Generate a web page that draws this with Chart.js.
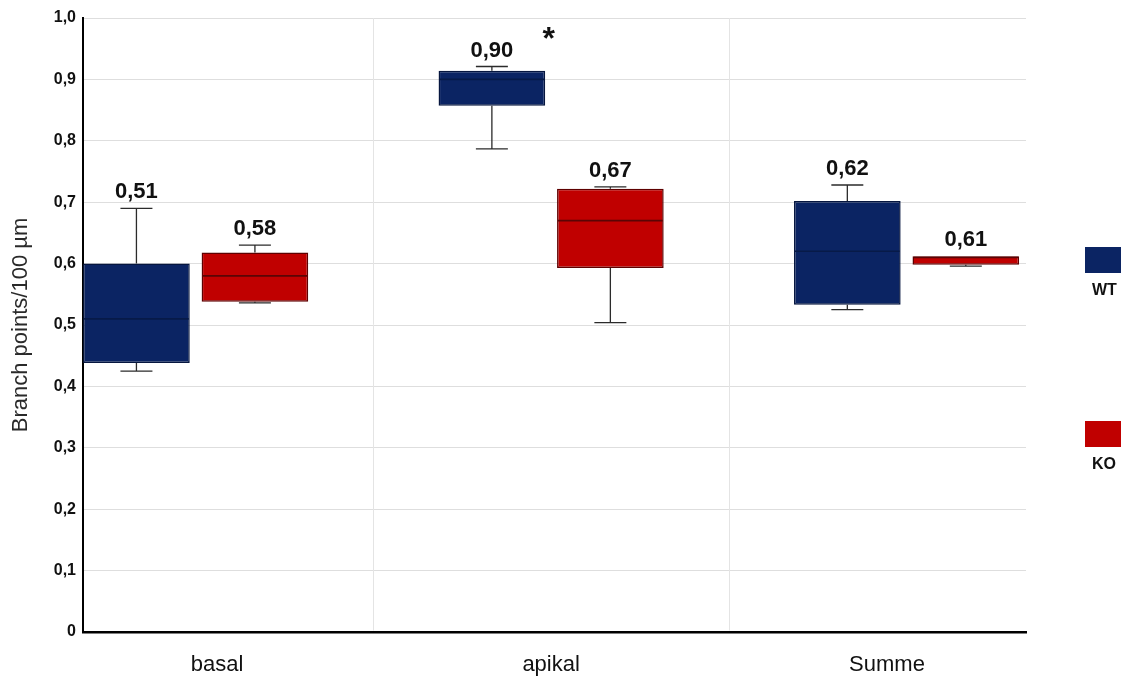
<!DOCTYPE html>
<html>
<head>
<meta charset="utf-8">
<script src="https://cdn.jsdelivr.net/npm/chart.js@4/dist/chart.umd.min.js"></script>
<style>
  html, body { margin: 0; padding: 0; background: #fff; }
  #wrap { width: 1121px; height: 682px; position: relative; }
</style>
</head>
<body>
<div id="wrap"><canvas id="c"></canvas></div>
<script>
// Branch point density per group: box = quartiles, whiskers = min/max
const categories = ['basal', 'apikal', 'Summe'];
const seriesNames = ['WT', 'KO'];

const wtMin    = [0.425, 0.787, 0.525];
const wtQ1     = [0.438, 0.857, 0.533];
const wtMedian = [0.51, 0.90, 0.62];
const wtQ3     = [0.600, 0.914, 0.702];
const wtMax    = [0.690, 0.921, 0.728];

const koMin    = [0.536, 0.504, 0.596];
const koQ1     = [0.538, 0.593, 0.598];
const koMedian = [0.58, 0.67, 0.61];
const koQ3     = [0.618, 0.722, 0.612];
const koMax    = [0.630, 0.725, 0.612];

const significance = ['', '*', ''];
const yTickValues = [0, 0.1, 0.2, 0.3, 0.4, 0.5, 0.6, 0.7, 0.8, 0.9, 1.0];

// ---- layout / style ----
const FONT = "'Liberation Sans', Arial, sans-serif";
const groupShift = [-1 / 6, 1 / 6];            // WT left, KO right of category centre
const labelPositions = [0.06, 1.0, 1.945];      // x positions of category captions
const fills   = ['#0b2463', '#c00000'];
const borders = ['#06163f', '#5e0000'];
const medianColors = ['#071a48', '#5a0505'];

const stats = [
  { min: wtMin, q1: wtQ1, med: wtMedian, q3: wtQ3, max: wtMax },
  { min: koMin, q1: koQ1, med: koMedian, q3: koQ3, max: koMax }
];

function boxData(s, shift) {
  return categories.map((_, i) => ({ x: i + shift, y: [s.q1[i], s.q3[i]] }));
}

const fmt = v => v.toFixed(2).replace('.', ',');

const dividerPlugin = {
  id: 'dividers',
  beforeDatasetsDraw(chart) {
    const { ctx, chartArea, scales: { x } } = chart;
    ctx.save();
    ctx.strokeStyle = '#e4e4e4';
    ctx.lineWidth = 1;
    for (let i = 0; i < categories.length - 1; i++) {
      const px = Math.round(x.getPixelForValue(i + 0.5)) + 0.5;
      ctx.beginPath();
      ctx.moveTo(px, chartArea.top);
      ctx.lineTo(px, chartArea.bottom - 1.5);
      ctx.stroke();
    }
    ctx.restore();
  }
};

const whiskerPlugin = {
  id: 'whiskers',
  afterDatasetsDraw(chart) {
    const { ctx, scales: { x, y } } = chart;
    ctx.save();
    chart.data.datasets.forEach((ds, d) => {
      const meta = chart.getDatasetMeta(d);
      const s = stats[d];
      categories.forEach((_, i) => {
        const bar = meta.data[i];
        const cx = x.getPixelForValue(i + groupShift[d]);
        const half = bar.width / 2;
        const capHalf = (x.getPixelForValue(0.045) - x.getPixelForValue(0));
        const yMin = y.getPixelForValue(s.min[i]);
        const yQ1 = y.getPixelForValue(s.q1[i]);
        const yMed = y.getPixelForValue(s.med[i]);
        const yQ3 = y.getPixelForValue(s.q3[i]);
        const yMax = y.getPixelForValue(s.max[i]);

        // whiskers and caps
        ctx.strokeStyle = '#2b2b2b';
        ctx.lineWidth = 1.3;
        ctx.beginPath();
        if (yMax < yQ3 - 0.5) {
          ctx.moveTo(cx, yQ3); ctx.lineTo(cx, yMax);
          ctx.moveTo(cx - capHalf, yMax); ctx.lineTo(cx + capHalf, yMax);
        }
        if (yMin > yQ1 + 0.5) {
          ctx.moveTo(cx, yQ1); ctx.lineTo(cx, yMin);
          ctx.moveTo(cx - capHalf, yMin); ctx.lineTo(cx + capHalf, yMin);
        }
        ctx.stroke();

        // median
        ctx.strokeStyle = medianColors[d];
        ctx.lineWidth = 1.6;
        ctx.beginPath();
        ctx.moveTo(cx - half + 1, yMed);
        ctx.lineTo(cx + half - 1, yMed);
        ctx.stroke();

        // value label
        ctx.fillStyle = '#111';
        ctx.font = `bold 22px ${FONT}`;
        ctx.textAlign = 'center';
        ctx.textBaseline = 'alphabetic';
        ctx.fillText(fmt(s.med[i]), cx, Math.min(yMax, yQ3) - 10);
      });
    });

    // significance marks above the WT box
    ctx.font = `bold 32px ${FONT}`;
    ctx.fillStyle = '#111';
    ctx.textAlign = 'center';
    significance.forEach((mark, i) => {
      if (!mark) return;
      const px = x.getPixelForValue(i + groupShift[0] + 0.16);
      const py = y.getPixelForValue(0.95);
      ctx.fillText(mark, px, py);
    });
    ctx.restore();
  }
};

const legendPlugin = {
  id: 'sideLegend',
  afterDraw(chart) {
    const { ctx } = chart;
    ctx.save();
    chart.data.datasets.forEach((ds, d) => {
      const top = 247 + d * 174;
      ctx.fillStyle = ds.backgroundColor;
      ctx.fillRect(1085, top, 45, 26);
      ctx.fillStyle = '#111';
      ctx.font = `bold 16px ${FONT}`;
      ctx.textAlign = 'left';
      ctx.textBaseline = 'alphabetic';
      ctx.fillText(ds.label, 1092, top + 48);
    });
    ctx.restore();
  }
};

new Chart(document.getElementById('c'), {
  type: 'bar',
  data: {
    datasets: seriesNames.map((name, d) => ({
      label: name,
      data: boxData(stats[d], groupShift[d]),
      backgroundColor: fills[d],
      borderColor: borders[d],
      borderWidth: 1.5,
      borderSkipped: false,
      grouped: false,
      barPercentage: 0.9,
      categoryPercentage: 1
    }))
  },
  options: {
    responsive: true,
    maintainAspectRatio: false,
    animation: false,
    layout: { padding: { top: 18, right: 95, left: 4, bottom: 0 } },
    plugins: { legend: { display: false }, tooltip: { enabled: false } },
    scales: {
      x: {
        type: 'linear',
        min: -0.317,
        max: 2.336,
        offset: false,
        afterBuildTicks: s => { s.ticks = labelPositions.map(v => ({ value: v })); },
        afterFit: s => { s.height = 50; },
        ticks: {
          callback: (v, idx) => categories[idx],
          font: { family: FONT, size: 22 },
          color: '#111',
          padding: 20,
          maxRotation: 0,
          autoSkip: false
        },
        grid: { display: false, drawTicks: false, offset: false },
        border: { display: true, color: '#000', width: 2.5 }
      },
      y: {
        min: 0,
        max: 1,
        afterBuildTicks: s => { s.ticks = yTickValues.map(v => ({ value: v })); },
        afterFit: s => { s.width = 79; },
        ticks: {
          callback: v => v === 0 ? '0' : v.toFixed(1).replace('.', ','),
          font: { family: FONT, size: 16, weight: 'bold' },
          color: '#111',
          padding: 7
        },
        grid: { color: '#dedede', drawTicks: false },
        border: { display: true, color: '#000', width: 2 },
        title: {
          display: true,
          text: 'Branch points/100 µm',
          font: { family: FONT, size: 22 },
          color: '#2a2a2a',
          padding: { top: 4, bottom: 0 }
        }
      }
    }
  },
  plugins: [dividerPlugin, whiskerPlugin, legendPlugin]
});
</script>
</body>
</html>
